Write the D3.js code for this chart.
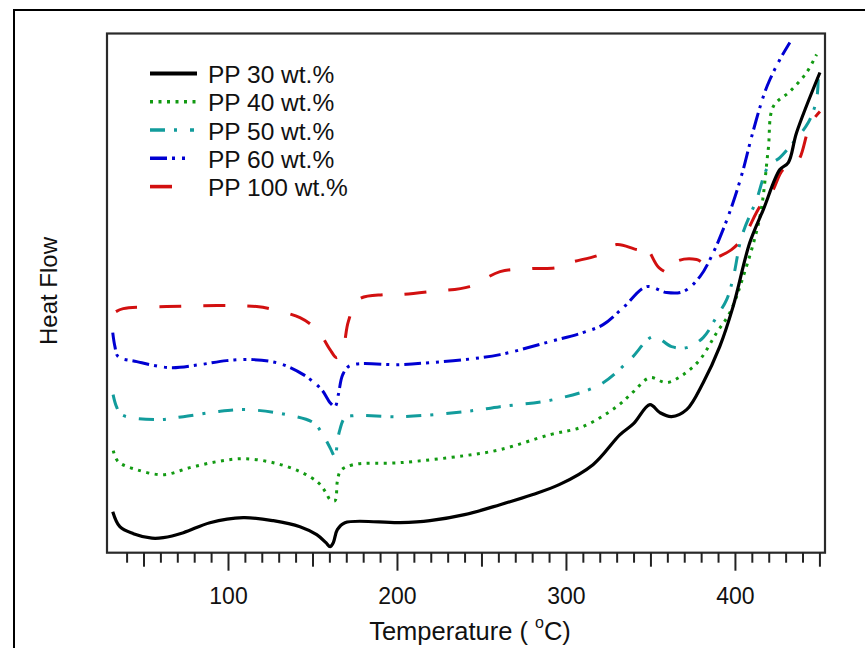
<!DOCTYPE html>
<html><head><meta charset="utf-8">
<script src="https://cdn.jsdelivr.net/npm/d3@7"></script>
<style>body{margin:0;background:#fff}svg{display:block}</style>
</head><body>
<svg id="chart" width="865" height="648"></svg>
<script>
// ---------- data (heat flow in arbitrary units) ----------
const seriesNames = ["PP 30 wt.%", "PP 40 wt.%", "PP 50 wt.%", "PP 60 wt.%", "PP 100 wt.%"];

const t30 = [31.8,36,44,55,61.7,73.6,89.3,109,126.8,142.6,152.5,158,160.4,162.3,164.7,169.2,201.8,219.5,240,261,280,296,316,332,340,349.7,355.6,362.5,371.4,381.2,391,398.9,408.8,416.8,426.6,431.6,436.5,450.3];
const hf30 = [41,26,19,14.5,15,20,30,35,32,26,18,10,6,10,23,30,30,32,38,48,58,68,88,118,129,148,140,136,143,170,206,246,310,343,383,390,420,480];

const t40 = [32.1,35,46,61.7,77.5,93.3,109,126.8,142.6,153.4,158,160.4,163.3,164.7,166.7,174.1,201.8,240,261,290.5,310,330,340,349.7,359.6,369.4,379.3,389.2,397,404.9,414.8,419.7,422.7,432.5,442.4,448.3];
const hf40 = [102,91,83,78,85,91,94,90,81,70,60,53,52,71,82,88,90,97,103,118,126,146,161,175,170,178,193,220,240,276,336,403,446,461,480,498];

const t50 = [32,34,37,57.8,73.6,93.3,111,134.7,150.5,155.4,160.4,163.3,164.7,165.9,169.2,174.1,201.8,240,261,292.5,320.1,337.9,351.7,362.5,371.4,381.2,389.2,395.1,399,404,412.8,419.7,426.6,432.5,443.4,448.3,449.3];
const hf50 = [158,146,138,133,136,141,143,138,130,120,105,96,110,121,135,137,136,141,146,153,168,193,216,206,205,215,236,253,275,316,353,386,395,406,430,453,476];

const t60 = [31.8,33.1,35,46,65.7,83.4,99.2,115,130.8,144.6,155.4,160.4,163.3,165.3,167.9,172.2,201.8,219.5,240,261,290.5,310,322,333.9,347.7,359.6,369.4,379.3,387.2,393,398.9,404.9,409.9,416.8,420.7,426.6,432.5];
const hf60 = [220,206,196,191,185,188,192,193,189,178,163,150,146,158,178,187,188,190,193,198,211,220,228,245,266,260,261,276,300,323,350,383,416,456,473,493,510];

const t100 = [33.7,38,63.7,95.3,117,126.8,142.6,150.5,156,160.4,164.3,167.9,171.2,177.1,191.9,201.8,220,243,261,280,294.5,302.4,320.1,330,343.8,346.7,349.7,355,361.5,365.5,377.3,383.2,387.2,398,404.9,414.8,421.7,428.6,434.5,438.5,443.4,446.4,450.3];
const hf100 = [241,244,246,247,246,243,235,226,215,203,195,203,231,253,258,258,261,266,281,284,285,290,298,308,303,308,300,285,280,291,293,288,293,303,315,346,360,383,386,395,423,433,441];

const xMinorTicks = d3.range(40, 451, 10);
const xMidTicks = [50,150,250,350,450];
const xMajorTicks = [100,200,300,400];
const xTickLabels = ["100","200","300","400"];

// ---------- styling ----------
const colors = ["#000000", "#129a12", "#129c9c", "#0000d2", "#d21010"];
const dashes = [null, "3,5.5", "15,9,3,13", "17,5,3,7,3,5", "22,22"];
const widths = [3.2, 3, 3, 3, 3];
const legendLen = [47, 47, 44, 38, 24];

const T = [t30, t40, t50, t60, t100];
const H = [hf30, hf40, hf50, hf60, hf100];

const svg = d3.select("#chart");
const font = "'Liberation Sans', Arial, sans-serif";

// outer frame
svg.append("rect").attr("x", 14).attr("y", 10).attr("width", 900).attr("height", 700)
  .attr("fill", "none").attr("stroke", "#000").attr("stroke-width", 2);

const L = 107, R = 825, TOP = 33.5, BOT = 552.7;
const x = d3.scaleLinear().domain([28.4, 453.3]).range([L, R]);
const y = d3.scaleLinear().domain([0, 519]).range([BOT, TOP]);

// plot box
svg.append("rect").attr("x", L).attr("y", TOP).attr("width", R - L).attr("height", BOT - TOP)
  .attr("fill", "none").attr("stroke", "#2a2a2a").attr("stroke-width", 2.2);

// axes ticks
function tickAxis(vals, size, labels) {
  const ax = d3.axisBottom(x).tickValues(vals).tickSize(size).tickSizeOuter(0);
  if (labels) ax.tickFormat((d, i) => labels[i]).tickPadding(17);
  else ax.tickFormat("");
  const g = svg.append("g").attr("transform", `translate(0,${BOT})`).call(ax);
  g.select(".domain").remove();
  g.selectAll(".tick line").attr("stroke", "#222").attr("stroke-width", 2);
  g.selectAll("text").attr("font-family", font).attr("font-size", 23).attr("fill", "#111");
  return g;
}
tickAxis(xMinorTicks.filter(d => d % 50 !== 0), 10);
tickAxis(xMidTicks, 14);
tickAxis(xMajorTicks, 18, xTickLabels);

// clip
svg.append("clipPath").attr("id", "clip").append("rect")
  .attr("x", L + 1).attr("y", TOP + 1).attr("width", R - L - 2).attr("height", BOT - TOP - 2);

const line = d3.line().x(d => x(d[0])).y(d => y(d[1])).curve(d3.curveCatmullRom.alpha(0.5));

const plot = svg.append("g").attr("clip-path", "url(#clip)");
// draw in reverse so black on top
for (let i = 4; i >= 0; i--) {
  const pts = T[i].map((t, k) => [t, H[i][k]]);
  plot.append("path").attr("d", line(pts)).attr("fill", "none")
    .attr("stroke", colors[i]).attr("stroke-width", widths[i])
    .attr("stroke-dasharray", dashes[i]).attr("stroke-linejoin", "round");
}

// legend
const legY = [73.5, 101.8, 130, 158.3, 186.6];
seriesNames.forEach((name, i) => {
  svg.append("line").attr("x1", 150).attr("x2", 150 + legendLen[i])
    .attr("y1", legY[i]).attr("y2", legY[i])
    .attr("stroke", colors[i]).attr("stroke-width", widths[i] + 0.6)
    .attr("stroke-dasharray", dashes[i]);
  svg.append("text").attr("x", 208).attr("y", legY[i] + 9.5)
    .attr("font-family", font).attr("font-size", 24.5).attr("fill", "#111").text(name);
});

// axis titles
const xt = svg.append("text").attr("x", 470).attr("y", 640).attr("text-anchor", "middle")
  .attr("font-family", font).attr("font-size", 25.5).attr("fill", "#111");
xt.append("tspan").text("Temperature ( ");
xt.append("tspan").attr("font-size", 16).attr("dy", -12).text("o");
xt.append("tspan").attr("dy", 12).text("C)");

svg.append("text").attr("transform", "translate(57,291) rotate(-90)").attr("text-anchor", "middle")
  .attr("font-family", font).attr("font-size", 24).attr("fill", "#111").text("Heat Flow");
</script>
</body></html>
